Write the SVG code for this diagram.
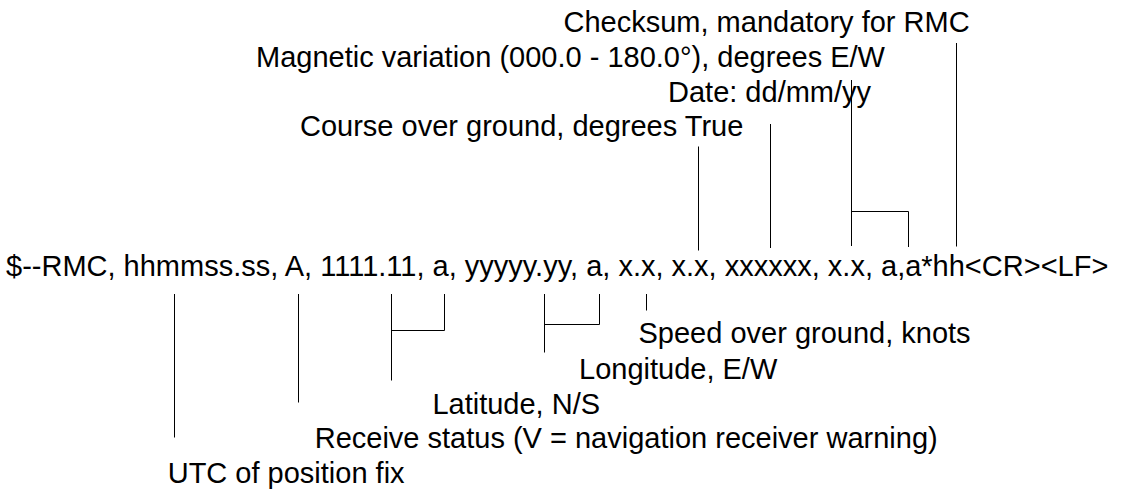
<svg xmlns="http://www.w3.org/2000/svg" width="1140" height="489" viewBox="0 0 1140 489">
<style>
text{font-family:"Liberation Sans",Arial,sans-serif;font-size:29px;fill:#000}
.c line,.c polyline{stroke:#000;stroke-width:1;fill:none}
</style>
<rect width="1140" height="489" fill="#fff"/>
<g id="sentence"><text x="6" y="275.5">$--RMC, hhmmss.ss, A, 1111.11, a, yyyyy.yy, a, x.x, x.x, xxxxxx, x.x, a,a*hh&lt;CR&gt;&lt;LF&gt;</text></g>
<g id="checksum"><text x="563.5" y="31.7">Checksum, mandatory for RMC</text></g>
<g id="magvar"><text x="256" y="66.7">Magnetic variation (000.0 - 180.0°), degrees E/W</text></g>
<g id="date"><text x="668" y="101.5">Date: dd/mm/yy</text></g>
<g id="course"><text x="300" y="136">Course over ground, degrees True</text></g>
<g id="speed"><text x="638.5" y="343.3">Speed over ground, knots</text></g>
<g id="longitude"><text x="579" y="379.3">Longitude, E/W</text></g>
<g id="latitude"><text x="432.4" y="414.3">Latitude, N/S</text></g>
<g id="status"><text x="314.7" y="448.3">Receive status (V = navigation receiver warning)</text></g>
<g id="utc"><text x="167.7" y="482.7">UTC of position fix</text></g>
<g id="connectors" class="c">
<line x1="698.5" y1="146.5" x2="698.5" y2="250.5"/>
<line x1="770.5" y1="124" x2="770.5" y2="248"/>
<polyline points="851.5,80 851.5,246"/>
<polyline points="851.5,211.5 908.5,211.5 908.5,247"/>
<line x1="956.5" y1="43" x2="956.5" y2="246.5"/>
<line x1="174.5" y1="294" x2="174.5" y2="437.5"/>
<line x1="298.5" y1="294" x2="298.5" y2="402.5"/>
<line x1="391.5" y1="294" x2="391.5" y2="380.5"/>
<polyline points="391.5,330.5 444.5,330.5 444.5,294"/>
<line x1="544.5" y1="294" x2="544.5" y2="352.5"/>
<polyline points="544.5,324.5 599.5,324.5 599.5,294"/>
<line x1="646.5" y1="294" x2="646.5" y2="310.5"/>
</g>
</svg>
